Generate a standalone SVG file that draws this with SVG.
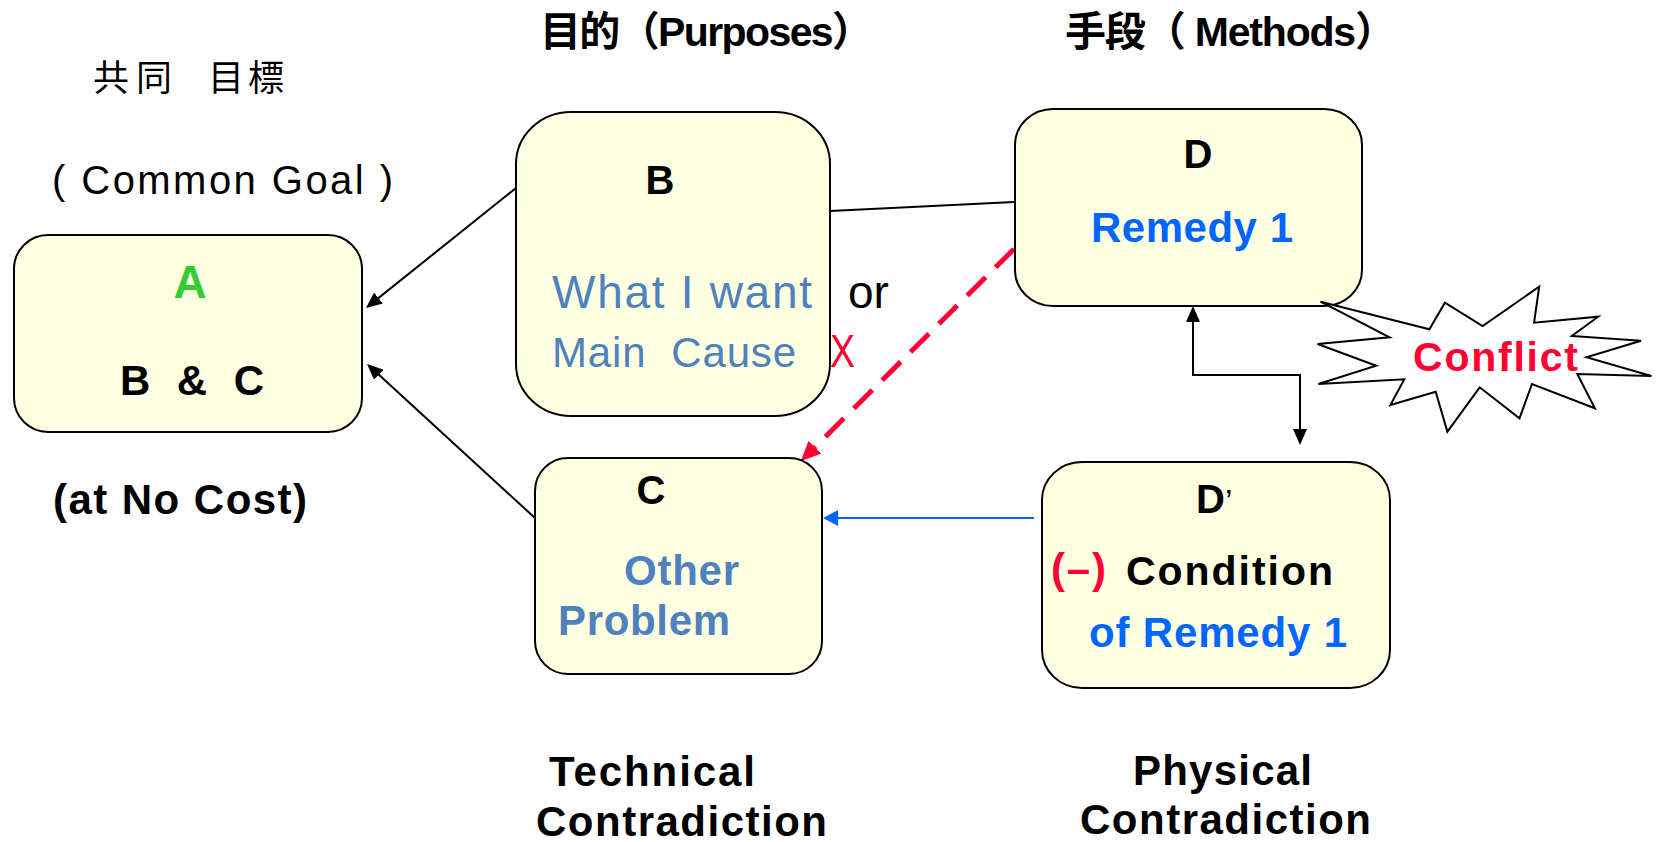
<svg xmlns="http://www.w3.org/2000/svg" width="1657" height="842" viewBox="0 0 1657 842">
<style>
.box{fill:#FFFFE1;stroke:#000;stroke-width:2}
.t{font-family:"Liberation Sans","Noto Sans CJK KR",sans-serif;font-weight:bold;fill:#000}
.n{font-weight:normal}
.cjk{font-family:"Noto Sans CJK KR","Noto Sans CJK JP",sans-serif}
.steel{fill:#4F81BD}
.blue{fill:#0066FF}
.red{fill:#FF0033}
.green{fill:#33CC33}
.ln{fill:none;stroke:#000;stroke-width:2}
</style>
<defs>
<marker id="ab" markerUnits="userSpaceOnUse" markerWidth="16" markerHeight="14" refX="1" refY="7" orient="auto-start-reverse" viewBox="0 0 16 14"><path d="M0,0 L16,7 L0,14 z" fill="#000"/></marker>
<marker id="ablue" markerUnits="userSpaceOnUse" markerWidth="15" markerHeight="16" refX="1" refY="8" orient="auto" viewBox="0 0 15 16"><path d="M0,0 L15,8 L0,16 z" fill="#0066FF"/></marker>
<marker id="ared" markerUnits="userSpaceOnUse" markerWidth="20" markerHeight="18" refX="1" refY="9" orient="auto" viewBox="0 0 20 18"><path d="M0,0 L20,9 L0,18 z" fill="#FF0033"/></marker>
</defs>
<rect width="1657" height="842" fill="#fff"/>

<g id="labels">
<text class="t n cjk" font-size="36" x="93 136 175 208 248" y="91">共同　目標</text>
<text class="t n" font-size="40" x="52" y="194" textLength="341" lengthAdjust="spacing" xml:space="preserve">( Common Goal )</text>
<text class="t" font-size="41" x="540" y="46" textLength="333" lengthAdjust="spacing">目的（Purposes）</text>
<text class="t" font-size="41" x="1065" y="46" textLength="331" lengthAdjust="spacing">手段（ Methods）</text>
<text class="t" font-size="42" x="53" y="514" textLength="254" lengthAdjust="spacing">(at No Cost)</text>
<text class="t" font-size="42" x="549" y="786" textLength="206" lengthAdjust="spacing">Technical</text>
<text class="t" font-size="42" x="536" y="836" textLength="291" lengthAdjust="spacing">Contradiction</text>
<text class="t" font-size="42" x="1133" y="785" textLength="179" lengthAdjust="spacing">Physical</text>
<text class="t" font-size="42" x="1080" y="834" textLength="291" lengthAdjust="spacing">Contradiction</text>
</g>

<g id="connectors">
<line class="ln" x1="516" y1="188" x2="377.7" y2="298.6" marker-end="url(#ab)"/>
<line class="ln" x1="535" y1="518" x2="378.1" y2="374.1" marker-end="url(#ab)"/>
<line class="ln" x1="830" y1="211" x2="1014" y2="202"/>
<line x1="1014" y1="249" x2="814.2" y2="447.9" stroke="#FF0033" stroke-width="5" stroke-dasharray="26 14" marker-end="url(#ared)"/>
<line x1="1034" y1="518" x2="837" y2="518" stroke="#0066FF" stroke-width="2" marker-end="url(#ablue)"/>
<path class="ln" d="M1193,321 L1193,375 L1300,375 L1300,430" marker-start="url(#ab)" marker-end="url(#ab)"/>
</g>

<g id="nodeA">
<rect class="box" x="14" y="235" width="348" height="197" rx="34" ry="34"/>
<text class="t green" font-size="46" x="190" y="298" text-anchor="middle">A</text>
<text class="t" font-size="42" x="120" y="395" textLength="144" lengthAdjust="spacing" xml:space="preserve">B  &amp;  C</text>
</g>

<g id="nodeB">
<rect class="box" x="516" y="112" width="314" height="304" rx="55" ry="52"/>
<text class="t" font-size="40" x="660" y="194" text-anchor="middle">B</text>
<text class="t n steel" font-size="46" x="552" y="308" textLength="260" lengthAdjust="spacing">What I want</text>
<text class="t n steel" font-size="42" x="552" y="367" textLength="244" lengthAdjust="spacing" xml:space="preserve">Main  Cause</text>
<text class="t n" font-size="46" x="848" y="308">or</text>
<text class="t n red" font-size="46" x="830" y="367" textLength="25" lengthAdjust="spacingAndGlyphs">X</text>
</g>

<g id="nodeC">
<rect class="box" x="535" y="458" width="287" height="216" rx="33" ry="33"/>
<text class="t" font-size="40" x="651" y="504" text-anchor="middle">C</text>
<text class="t steel" font-size="42" x="624" y="585" textLength="115" lengthAdjust="spacing">Other</text>
<text class="t steel" font-size="42" x="558" y="635" textLength="172" lengthAdjust="spacing">Problem</text>
</g>

<g id="nodeD">
<rect class="box" x="1015" y="109" width="347" height="197" rx="38" ry="36"/>
<text class="t" font-size="40" x="1198" y="168" text-anchor="middle">D</text>
<text class="t blue" font-size="42" x="1091" y="242" textLength="202" lengthAdjust="spacing">Remedy 1</text>
</g>

<g id="nodeD2">
<rect class="box" x="1042" y="462" width="348" height="226" rx="40" ry="38"/>
<text class="t" font-size="40" x="1196" y="513">D<tspan class="n" font-size="34">’</tspan></text>
<text class="t red" font-size="42" x="1051" y="583" textLength="55" lengthAdjust="spacing">(–)</text>
<text class="t" font-size="41" x="1126" y="585" textLength="207" lengthAdjust="spacing">Condition</text>
<text class="t blue" font-size="42" x="1089" y="647" textLength="258" lengthAdjust="spacing">of Remedy 1</text>
</g>

<g id="conflict">
<polygon points="1320.5,301.7 1429.4,329.3 1444.9,302.7 1482.6,326 1539.2,286.7 1534.1,322.7 1598.2,316.7 1571.8,336 1641,340.7 1586.5,357.3 1651.4,376 1577.3,374 1594.9,408.3 1532,384 1519.5,418.3 1479.7,387.3 1447.4,431.7 1435.7,391.7 1390.4,405 1404.3,379.3 1318.4,384 1376.2,365.7 1317.6,344 1389.6,337.3" fill="#fff" stroke="#000" stroke-width="2" stroke-linejoin="miter"/>
<text class="t red" font-size="41" x="1413" y="371" textLength="165" lengthAdjust="spacing">Conflict</text>
</g>
</svg>
